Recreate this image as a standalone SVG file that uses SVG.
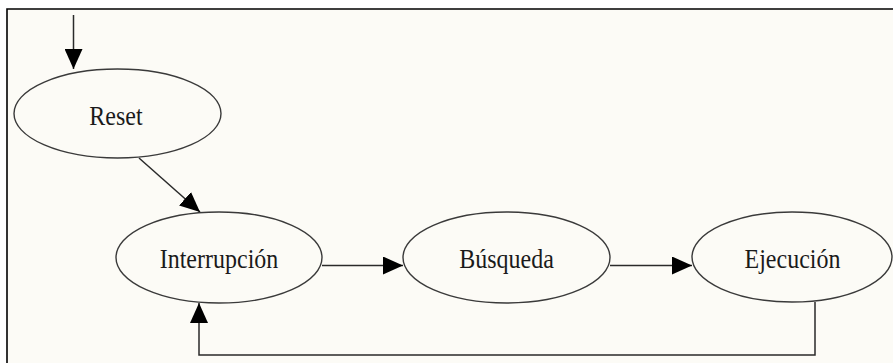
<svg xmlns="http://www.w3.org/2000/svg" width="893" height="363" viewBox="0 0 893 363">
  <style>
    .node ellipse { fill: none; stroke: #3a3a3a; stroke-width: 1.4; }
    .node text { font-family: "Liberation Serif", "Times New Roman", serif; font-size: 24px; fill: #1a1a1a; text-anchor: middle; }
    .edge { fill: none; stroke: #2a2a2a; stroke-width: 1.5; marker-end: url(#arrow); }
  </style>
  <defs>
    <marker id="arrow" viewBox="0 0 20 18" refX="20" refY="9" markerWidth="20" markerHeight="18" markerUnits="userSpaceOnUse" orient="auto">
      <path d="M0,0 L20,9 L0,18 z" fill="#000"/>
    </marker>
  </defs>
  <rect x="0" y="0" width="893" height="363" fill="#ffffff"/>
  <rect x="7" y="9" width="886" height="354" fill="#fcfbf6"/>
  <path d="M7,363 L7,9 L893,9" fill="none" stroke="#000" stroke-width="1.6"/>

  <g id="connectors">
    <path class="edge" d="M73.5,15 L73.5,69"/>
    <path class="edge" d="M139,158 L200,212"/>
    <path class="edge" d="M322,265.5 L403,265.5"/>
    <path class="edge" d="M610,265.5 L692,265.5"/>
    <path class="edge" d="M815,302 L815,355 L199,355 L199,303"/>
  </g>

  <g id="reset" class="node">
    <ellipse cx="117.5" cy="113.5" rx="103.5" ry="44.5"/>
    <text transform="translate(116,125) scale(1,1.12)">Reset</text>
  </g>
  <g id="interrupcion" class="node">
    <ellipse cx="219" cy="257.5" rx="103" ry="45.5"/>
    <text transform="translate(219,268) scale(1,1.12)">Interrupción</text>
  </g>
  <g id="busqueda" class="node">
    <ellipse cx="506.5" cy="257.5" rx="103.5" ry="45.5"/>
    <text transform="translate(506.5,268) scale(1,1.12)">Búsqueda</text>
  </g>
  <g id="ejecucion" class="node">
    <ellipse cx="792" cy="257" rx="100" ry="45"/>
    <text transform="translate(792.5,268) scale(1,1.12)">Ejecución</text>
  </g>
</svg>
